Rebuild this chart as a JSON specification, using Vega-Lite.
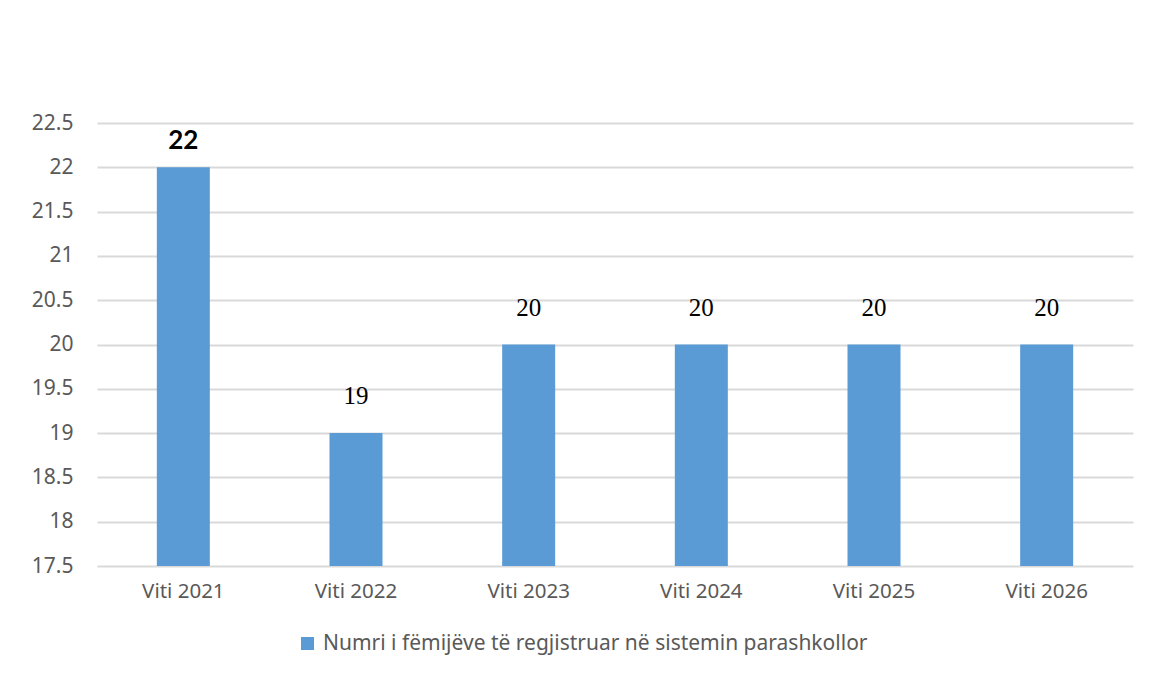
{
  "$schema": "https://vega.github.io/schema/vega-lite/v6.json",
  "width": 1036,
  "height": 443,
  "autosize": {"type": "none"},
  "padding": {"left": 97, "top": 123, "right": 16, "bottom": 109},
  "background": "white",
  "config": {"view": {"stroke": null}, "font": "Noto Sans"},
  "data": {
    "values": [
      {"year": "Viti 2021", "value": 22},
      {"year": "Viti 2022", "value": 19},
      {"year": "Viti 2023", "value": 20},
      {"year": "Viti 2024", "value": 20},
      {"year": "Viti 2025", "value": 20},
      {"year": "Viti 2026", "value": 20}
    ]
  },
  "encoding": {
    "x": {
      "field": "year",
      "type": "nominal",
      "sort": null,
      "scale": {"paddingInner": 0.693, "paddingOuter": 0.3465},
      "axis": {
        "title": null,
        "domain": false,
        "ticks": false,
        "labelAngle": 0,
        "labelFont": "Noto Sans",
        "labelFontSize": 20.5,
        "labelColor": "#595959",
        "labelPadding": 15
      }
    },
    "y": {
      "field": "value",
      "type": "quantitative",
      "scale": {"domain": [17.5, 22.5], "nice": false, "zero": false},
      "axis": {
        "title": null,
        "values": [17.5, 18, 18.5, 19, 19.5, 20, 20.5, 21, 21.5, 22, 22.5],
        "format": "~g",
        "domain": false,
        "ticks": false,
        "grid": true,
        "gridColor": "#d9d9d9",
        "gridWidth": 2,
        "labelFont": "Noto Sans",
        "labelFontSize": 21,
        "labelColor": "#595959",
        "labelPadding": 24
      }
    }
  },
  "layer": [
    {
      "mark": {"type": "bar"},
      "encoding": {
        "y2": {"datum": 17.5},
        "color": {
          "datum": "Numri i fëmijëve të regjistruar në sistemin parashkollor",
          "scale": {"range": ["#5B9BD5"]},
          "legend": {
            "orient": "none",
            "legendX": 200,
            "legendY": 510,
            "title": null,
            "padding": 0,
            "symbolType": "square",
            "symbolSize": 169,
            "symbolStrokeWidth": 0,
            "labelFont": "Noto Sans",
            "labelFontSize": 21,
            "labelColor": "#595959",
            "labelOffset": 5,
            "labelLimit": 0
          }
        }
      }
    },
    {
      "transform": [{"filter": "datum.year == 'Viti 2021'"}],
      "mark": {"type": "text", "font": "Lato", "fontWeight": "bold", "fontSize": 26, "color": "#000000", "baseline": "alphabetic", "dy": -18},
      "encoding": {"text": {"field": "value", "type": "quantitative"}}
    },
    {
      "transform": [{"filter": "datum.year != 'Viti 2021'"}],
      "mark": {"type": "text", "font": "Liberation Serif", "fontSize": 25, "color": "#000000", "baseline": "alphabetic", "dy": -29},
      "encoding": {"text": {"field": "value", "type": "quantitative"}}
    }
  ]
}
